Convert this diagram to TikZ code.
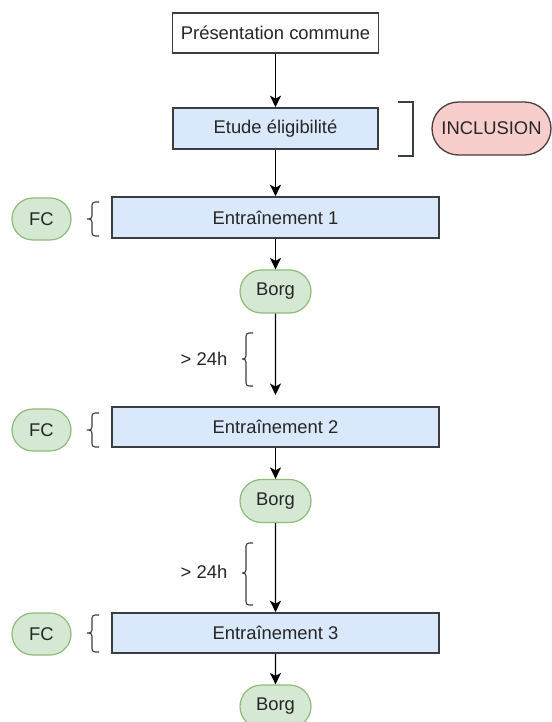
\documentclass[tikz,border=0pt]{standalone}
\usepackage{fontspec}
\setmainfont{Liberation Sans}
\usetikzlibrary{arrows.meta,shapes.misc}
\definecolor{bluefill}{HTML}{DAE8FC}
\definecolor{boxline}{HTML}{3A3D42}
\definecolor{greenfill}{HTML}{D5E8D4}
\definecolor{greenline}{HTML}{8DBB78}
\definecolor{redfill}{HTML}{F8CECC}
\definecolor{redline}{HTML}{4A3C3C}
\definecolor{txt}{HTML}{262626}
\begin{document}
\begin{tikzpicture}[x=1pt,y={(0pt,-1pt)},
  every node/.style={font=\fontsize{18.4}{22}\selectfont, text=txt, inner sep=0pt},
  plainbox/.style={draw=boxline, line width=1.3pt, fill=white, minimum width=206pt, minimum height=40pt},
  bluebox/.style={draw=boxline, line width=1.6pt, fill=bluefill, minimum height=41pt},
  greenpill/.style={rounded rectangle, draw=greenline, line width=1.2pt, fill=greenfill, minimum height=42pt},
  redpill/.style={rounded rectangle, draw=redline, line width=1.3pt, fill=redfill, minimum height=53pt, minimum width=119pt},
  conn/.style={draw=black, line width=1.3pt, -{Stealth[length=11.5pt,width=11pt,inset=3pt]}},
  bracestyle/.style={draw=boxline, line width=1.1pt, rounded corners=3pt}
]
\useasboundingbox (0,0) rectangle (551,722);

\node[plainbox] (pres) at (275.5,33) {Présentation commune};
\node[bluebox, minimum width=205pt] (etude) at (275.5,128.5) {Etude éligibilité};
\node[redpill] (incl) at (491.5,128.5) {INCLUSION};
\draw[bracestyle, rounded corners=0pt] (398,102) -- (413,102) -- (413,156) -- (398,156);

\node[bluebox, minimum width=327pt] (e1) at (275.5,217.5) {Entraînement 1};
\node[bluebox, minimum width=327pt, minimum height=40pt] (e2) at (275.5,427) {Entraînement 2};
\node[bluebox, minimum width=327pt, minimum height=40pt] (e3) at (275.5,633) {Entraînement 3};

\node[greenpill, minimum width=71pt, minimum height=43pt] (b1) at (275.5,291.5) {Borg};
\node[greenpill, minimum width=71pt, minimum height=43pt] (b2) at (275.5,501) {Borg};
\node[greenpill, minimum width=71pt, minimum height=43pt] (b3) at (275.5,706.5) {Borg};

\node[greenpill, minimum width=59pt] (fc1) at (41.5,219) {FC};
\node[greenpill, minimum width=59pt] (fc2) at (41.5,430) {FC};
\node[greenpill, minimum width=59pt] (fc3) at (41.5,634) {FC};

% braces next to trainings
\draw[bracestyle] (99,202) -- (92,202) -- (92,219) -- (85,219) -- (92,219) -- (92,236) -- (99,236);
\draw[bracestyle] (99,413) -- (92,413) -- (92,430) -- (85,430) -- (92,430) -- (92,447) -- (99,447);
\draw[bracestyle] (99,615) -- (92,615) -- (92,633) -- (85,633) -- (92,633) -- (92,652) -- (99,652);

% > 24h braces
\draw[bracestyle] (253,333) -- (246,333) -- (246,359) -- (240,359) -- (246,359) -- (246,386) -- (253,386);
\node (t1) at (204,359) {> 24h};
\draw[bracestyle] (253,543) -- (246,543) -- (246,573) -- (240,573) -- (246,573) -- (246,605) -- (253,605);
\node (t2) at (204,572) {> 24h};

\coordinate (e2top) at (275.5,395);

\draw[conn] (pres) -- (etude);
\draw[conn] (etude) -- (e1);
\draw[conn] (e1) -- (b1);
\draw[conn] (b1) -- (e2top);
\draw[conn] (e2) -- (b2);
\draw[conn] (b2) -- (e3);
\draw[conn] (e3) -- (b3);
\end{tikzpicture}
\end{document}
